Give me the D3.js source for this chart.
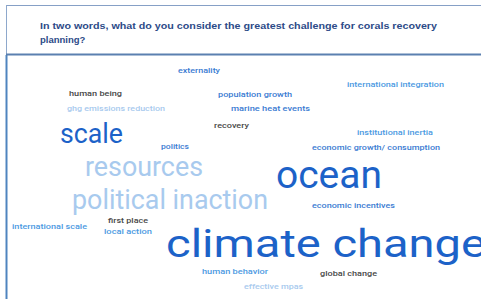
<!DOCTYPE html>
<html>
<head>
<meta charset="utf-8">
<script src="https://cdn.jsdelivr.net/npm/d3@7"></script>
<style>
  html, body { margin: 0; padding: 0; background: #fff; }
  svg { display: block; }
</style>
</head>
<body>
<svg id="chart" width="481" height="299"></svg>
<script>
// ---- data ----
const titleLines = [
  "In two words, what do you consider the greatest challenge for corals recovery",
  "planning?"
];
const words = [
  "externality", "human being", "ghg emissions reduction", "population growth",
  "marine heat events", "recovery", "international integration", "institutional inertia",
  "scale", "politics", "economic growth/ consumption", "resources",
  "political inaction", "ocean", "economic incentives", "first place",
  "international scale", "local action", "climate change", "human behavior",
  "global change", "effective mpas"
];
const weights = [
  1, 1, 1, 1,
  1, 1, 1, 1,
  10, 1, 1, 10,
  10.5, 15, 1, 1,
  1, 1, 15.5, 1,
  1, 1
];

// ---- layout (word cloud placement, in cloud-panel units) & styling ----
const placements = [
  [171, 17, 42], [62, 40, 53], [60, 55, 98], [211, 41, 74],
  [224, 55, 79], [207, 72, 35], [340, 31, 97], [350, 79, 76],
  [53, 87, 63], [154, 92.5, 28], [305, 94, 128], [78, 120, 118],
  [65, 152.5, 196], [269, 132, 106], [305, 152, 83], [101, 167, 40],
  [5, 173, 75], [97, 178, 48], [159, 201, 320], [195, 218, 66],
  [313, 220, 57], [237, 233, 59]
];
const tones = [
  "mid", "gray", "pale", "mid",
  "mid", "gray", "sky", "sky",
  "deep", "mid", "mid", "pale",
  "pale", "deep", "mid", "gray",
  "sky", "sky", "deep", "sky",
  "gray", "pale"
];

const W = 481, H = 299;
const svg = d3.select("#chart");

// frame
svg.append("line").attr("x1", 6).attr("x2", W).attr("y1", 5.5).attr("y2", 5.5)
  .attr("stroke", "#86a0c6").attr("stroke-width", 1);
svg.append("line").attr("x1", 6.5).attr("x2", 6.5).attr("y1", 5).attr("y2", 55)
  .attr("stroke", "#8ea8cc").attr("stroke-width", 1);
svg.append("line").attr("x1", 6.5).attr("x2", 6.5).attr("y1", 55).attr("y2", H)
  .attr("stroke", "#4f84bf").attr("stroke-width", 2);
svg.append("line").attr("x1", 6).attr("x2", W).attr("y1", 54.5).attr("y2", 54.5)
  .attr("stroke", "#5b80b0").attr("stroke-width", 2);

// title
const title = svg.append("g")
  .attr("font-family", "'Liberation Sans', Arial, sans-serif")
  .attr("font-weight", "bold")
  .attr("font-size", 9.5)
  .attr("fill", "#2d4b88");
title.selectAll("text").data(titleLines).join("text")
  .attr("x", 40)
  .attr("y", (d, i) => 29.3 + i * 13.5)
  .each(function (d, i) { if (i === 0) d3.select(this).attr("textLength", 397).attr("lengthAdjust", "spacingAndGlyphs"); })
  .text(d => d);

// cloud panel scales
const panel = { x0: 7, x1: W, y0: 56, y1: H };
const xs = d3.scaleLinear().domain([0, 474]).range([panel.x0, panel.x1]);
const ys = d3.scaleLinear().domain([0, 243]).range([panel.y0, panel.y1]);
const size = d3.scaleLinear().domain([1, 16]).range([8, 40]);
const color = d3.scaleOrdinal()
  .domain(["gray", "pale", "mid", "sky", "deep"])
  .range(["#474747", "#a8caee", "#3a7bd2", "#4c9ae2", "#1c62c8"]);

const cloud = words.map((w, i) => ({
  text: w, weight: weights[i], x: placements[i][0], y: placements[i][1],
  len: placements[i][2], tone: tones[i]
}));

svg.append("g")
  .attr("font-family", "Roboto, 'Noto Sans', sans-serif")
  .selectAll("text").data(cloud).join("text")
  .attr("x", d => xs(d.x))
  .attr("y", d => ys(d.y))
  .attr("font-size", d => size(d.weight))
  .attr("font-weight", d => d.weight > 3 ? 400 : 500)
  .attr("fill", d => color(d.tone))
  .attr("textLength", d => d.len)
  .attr("lengthAdjust", "spacingAndGlyphs")
  .text(d => d.text);
</script>
</body>
</html>
